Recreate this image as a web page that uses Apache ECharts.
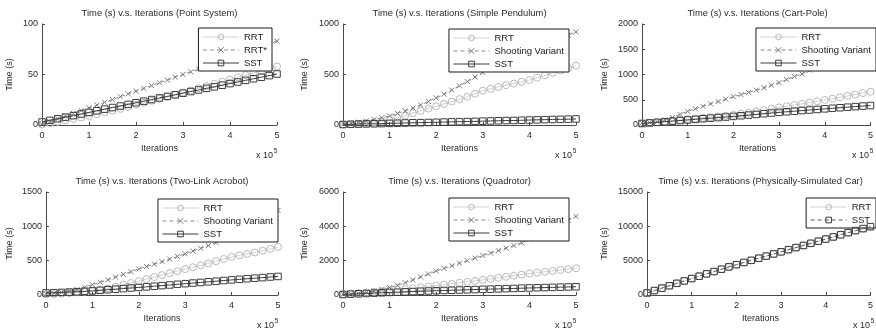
<!DOCTYPE html>
<html>
<head>
<meta charset="utf-8">
<script src="https://cdn.jsdelivr.net/npm/echarts@6/dist/echarts.min.js"></script>
<style>
  html, body { margin: 0; padding: 0; background: #fff; }
  #wrap { position: relative; width: 876px; height: 333px; overflow: hidden; }
  .panel { position: absolute; width: 292px; }
</style>
</head>
<body>
<div id="wrap"></div>
<script>
// Iteration counts at which timings were sampled
const iterations = [0, 16667, 33333, 50000, 66667, 83333, 100000, 116667, 133333, 150000,
  166667, 183333, 200000, 216667, 233333, 250000, 266667, 283333, 300000, 316667,
  333333, 350000, 366667, 383333, 400000, 416667, 433333, 450000, 466667, 483333, 500000];

// Point System
const pointRRT = [0.5, 1.8, 3.2, 4.6, 6.0, 7.5, 9.0, 10.7, 12.4, 14.2, 16.0, 18.0, 20.0, 22.0, 24.0, 26.0,
  28.0, 30.0, 32.0, 34.1, 36.3, 38.5, 40.7, 42.9, 45.0, 47.2, 49.4, 51.5, 53.6, 55.8, 58.0];
const pointRRTStar = [0.5, 3.3, 6.0, 8.8, 11.4, 14.3, 17.0, 19.8, 22.4, 25.3, 28.0, 30.9, 33.5, 36.2, 39.0, 41.8,
  44.4, 47.3, 50.0, 52.7, 55.5, 58.3, 61.0, 63.7, 66.5, 69.3, 72.0, 74.7, 77.5, 80.3, 83.0];
const pointSST = [3.0, 4.6, 6.2, 7.8, 9.3, 10.9, 12.5, 14.1, 15.7, 17.3, 18.8, 20.4, 22.0, 23.6, 25.2, 26.8,
  28.3, 29.9, 31.5, 33.1, 34.7, 36.3, 37.8, 39.4, 41.0, 42.6, 44.2, 45.8, 47.3, 48.9, 50.5];

// Simple Pendulum
const pendRRT = [5, 8, 12, 18, 26, 36, 50, 70, 92, 118, 140, 162, 185, 208, 232, 256,
  280, 310, 340, 358, 377, 394, 410, 428, 445, 468, 492, 516, 540, 563, 587];
const pendShoot = [15, 20, 28, 40, 55, 72, 90, 115, 140, 168, 198, 232, 268, 305, 345, 388,
  430, 475, 520, 555, 590, 625, 660, 693, 727, 760, 793, 826, 858, 890, 922];
const pendSST = [5, 7, 9, 11, 12, 14, 16, 18, 20, 22, 23, 25, 27, 29, 31, 33,
  34, 36, 38, 40, 42, 44, 45, 47, 49, 51, 53, 55, 56, 58, 60];

// Cart-Pole
const cartRRT = [30, 40, 52, 65, 80, 98, 115, 128, 142, 156, 170, 185, 200, 222, 245, 270,
  295, 322, 350, 372, 395, 420, 445, 470, 495, 520, 548, 576, 604, 632, 660];
const cartShoot = [40, 50, 65, 100, 150, 210, 270, 320, 370, 420, 465, 512, 560, 603, 646, 690,
  738, 788, 840, 900, 960, 1010, 1085, 1170, 1260, 1340, 1415, 1490, 1570, 1650, 1740];
const cartSST = [30, 42, 54, 65, 77, 88, 100, 112, 124, 135, 147, 158, 170, 183, 197, 210,
  223, 237, 250, 262, 273, 285, 297, 308, 320, 331, 342, 353, 364, 375, 385];

// Two-Link Acrobot
const acroRRT = [10, 14, 20, 28, 37, 47, 58, 75, 95, 121, 148, 175, 203, 232, 261, 290,
  319, 348, 377, 405, 432, 460, 492, 524, 556, 577, 598, 619, 645, 672, 700];
const acroShoot = [20, 28, 38, 55, 80, 112, 150, 185, 222, 260, 300, 340, 380, 415, 450, 485,
  522, 561, 600, 640, 680, 720, 765, 805, 845, 900, 960, 1025, 1090, 1160, 1232];
const acroSST = [30, 34, 38, 43, 48, 54, 60, 68, 77, 85, 93, 102, 110, 119, 128, 137,
  146, 156, 165, 174, 183, 192, 201, 211, 220, 228, 237, 245, 253, 262, 270];

// Quadrotor
const quadRRT = [50, 80, 110, 145, 180, 215, 250, 298, 346, 396, 446, 498, 550, 602, 656, 710,
  765, 822, 880, 940, 1000, 1062, 1124, 1187, 1250, 1302, 1354, 1406, 1458, 1510, 1560];
const quadShoot = [50, 70, 100, 150, 230, 320, 430, 570, 720, 880, 1050, 1225, 1400, 1550, 1700, 1850,
  2000, 2150, 2300, 2443, 2586, 2730, 2880, 3040, 3250, 3470, 3690, 3910, 4130, 4355, 4580];
const quadSST = [30, 50, 70, 90, 110, 130, 150, 167, 184, 200, 217, 233, 250, 263, 277, 290,
  303, 317, 330, 343, 357, 370, 383, 397, 410, 422, 433, 445, 457, 468, 480];

// Physically-Simulated Car
const carRRT = [260, 620, 980, 1340, 1690, 2040, 2390, 2730, 3070, 3410, 3750, 4090, 4410, 4730, 5040, 5350,
  5660, 5970, 6280, 6590, 6900, 7210, 7520, 7830, 8140, 8450, 8760, 9070, 9370, 9660, 9940];
const carSST = [300, 650, 1000, 1350, 1700, 2050, 2400, 2740, 3080, 3420, 3760, 4100, 4420, 4740, 5050, 5360,
  5670, 5980, 6290, 6600, 6910, 7220, 7530, 7840, 8150, 8460, 8770, 9080, 9380, 9670, 9950];

// Axis ranges
const xMax = 500000, xStep = 100000;
const yMaxes = [100, 1000, 2000, 1500, 6000, 15000];
const yIntervals = [50, 500, 500, 500, 2000, 5000];

const FONT = '"Liberation Sans", Arial, Helvetica, sans-serif';
const CLEAR = 'rgba(255,255,255,0)';
const X_MARK = 'path://M0,0L10,10M10,0L0,10';

const pairs = vals => iterations.map((x, i) => [x, vals[i]]);

function rrt(name, vals) {
  return {
    name, type: 'line', data: pairs(vals), z: 2,
    symbol: 'circle', symbolSize: 7, showAllSymbol: true,
    itemStyle: { color: CLEAR, borderColor: '#b9b9b9', borderWidth: 1 },
    lineStyle: { color: '#d2d2d2', width: 1 }
  };
}
function shoot(name, vals) {
  return {
    name, type: 'line', data: pairs(vals), z: 3,
    symbol: X_MARK, symbolSize: 5, showAllSymbol: true,
    itemStyle: { color: CLEAR, borderColor: '#7a7a7a', borderWidth: 1 },
    lineStyle: { color: '#8c8c8c', width: 1, type: [4, 3] }
  };
}
function sst(name, vals, dashed) {
  return {
    name, type: 'line', data: pairs(vals), z: 4,
    symbol: 'rect', symbolSize: 6.5, showAllSymbol: true,
    itemStyle: { color: CLEAR, borderColor: '#3c3c3c', borderWidth: 1 },
    lineStyle: { color: dashed ? '#5a5a5a' : '#3c3c3c', width: 1, type: dashed ? [4, 3] : 'solid' }
  };
}

const panels = [
  { x: 0, y: 0, h: 166, grid: { left: 42, top: 24, width: 235, height: 101 }, yName: 32,
    title: 'Time (s) v.s. Iterations (Point System)', legendRight: 20, legendTop: 28,
    series: [rrt('RRT', pointRRT), shoot('RRT*', pointRRTStar), sst('SST', pointSST)] },
  { x: 292, y: 0, h: 166, grid: { left: 51, top: 24, width: 233, height: 101 }, yName: 38,
    title: 'Time (s) v.s. Iterations (Simple Pendulum)', legendRight: 15, legendTop: 29,
    series: [rrt('RRT', pendRRT), shoot('Shooting Variant', pendShoot), sst('SST', pendSST)] },
  { x: 584, y: 0, h: 166, grid: { left: 58, top: 24, width: 231, height: 101 }, yName: 37,
    title: 'Time (s) v.s. Iterations (Cart-Pole)', legendRight: 0, legendTop: 28,
    series: [rrt('RRT', cartRRT), shoot('Shooting Variant', cartShoot), sst('SST', cartSST)] },
  { x: 0, y: 166, h: 167, grid: { left: 46, top: 26, width: 232, height: 103 }, yName: 36,
    title: 'Time (s) v.s. Iterations (Two-Link Acrobot)', legendRight: 14, legendTop: 33,
    series: [rrt('RRT', acroRRT), shoot('Shooting Variant', acroShoot), sst('SST', acroSST)] },
  { x: 292, y: 166, h: 167, grid: { left: 51, top: 26, width: 233, height: 103 }, yName: 38,
    title: 'Time (s) v.s. Iterations (Quadrotor)', legendRight: 15, legendTop: 32,
    series: [rrt('RRT', quadRRT), shoot('Shooting Variant', quadShoot), sst('SST', quadSST)] },
  { x: 584, y: 166, h: 167, grid: { left: 63, top: 26, width: 227, height: 103 }, yName: 42,
    title: 'Time (s) v.s. Iterations (Physically-Simulated Car)', legendRight: 0, legendTop: 32,
    series: [rrt('RRT', carRRT), sst('SST', carSST, true)] }
];

const wrap = document.getElementById('wrap');
panels.forEach((p, idx) => {
  const el = document.createElement('div');
  el.className = 'panel';
  el.style.left = p.x + 'px';
  el.style.top = p.y + 'px';
  el.style.height = p.h + 'px';
  wrap.appendChild(el);
  const chart = echarts.init(el, null, { renderer: 'canvas' });
  const g = p.grid;
  const cx = g.left + g.width / 2;
  const bottom = g.top + g.height;
  const right = g.left + g.width;
  const axisLine = { show: true, lineStyle: { color: '#4a4a4a', width: 1 } };
  const axisTick = { show: true, inside: true, length: 3, lineStyle: { color: '#4a4a4a' } };
  const label = { color: '#2a2a2a', fontSize: 9, fontFamily: FONT };
  const txt = (text, x, y, extra) => ({
    type: 'text', x, y, silent: true,
    style: Object.assign({ text, fill: '#2a2a2a', font: '9px ' + FONT, align: 'center', verticalAlign: 'middle' }, extra || {})
  });
  chart.setOption({
    animation: false,
    backgroundColor: '#fff',
    grid: g,
    xAxis: {
      type: 'value', min: 0, max: xMax, interval: xStep,
      axisLine, axisTick, splitLine: { show: false },
      axisLabel: Object.assign({ margin: 6, formatter: v => String(v / 100000) }, label)
    },
    yAxis: {
      type: 'value', min: 0, max: yMaxes[idx], interval: yIntervals[idx],
      axisLine, axisTick, splitLine: { show: false },
      axisLabel: Object.assign({ margin: 4, formatter: v => String(v) }, label)
    },
    legend: {
      orient: 'vertical', right: p.legendRight, top: p.legendTop,
      selectedMode: false,
      backgroundColor: '#fff', borderColor: '#1a1a1a', borderWidth: 1, borderRadius: 0,
      padding: [4, 5, 3, 4], itemGap: 3, itemWidth: 36, itemHeight: 7,
      lineStyle: { width: 1 },
      itemStyle: { borderWidth: 1 },
      textStyle: { color: '#1a1a1a', fontSize: 9.5, fontFamily: FONT }
    },
    graphic: [
      txt(p.title, cx, g.top - 11, { font: '9.4px ' + FONT }),
      txt('Iterations', cx, bottom + 24),
      Object.assign(txt('Time (s)', g.left - p.yName, g.top + g.height / 2), { rotation: Math.PI / 2 }),
      txt('x 10', right - 4, bottom + 31, { align: 'right', font: '9px ' + FONT }),
      txt('5', right - 1.5, bottom + 26, { align: 'center', font: '6.5px ' + FONT })
    ],
    series: p.series
  });
});
</script>
</body>
</html>
